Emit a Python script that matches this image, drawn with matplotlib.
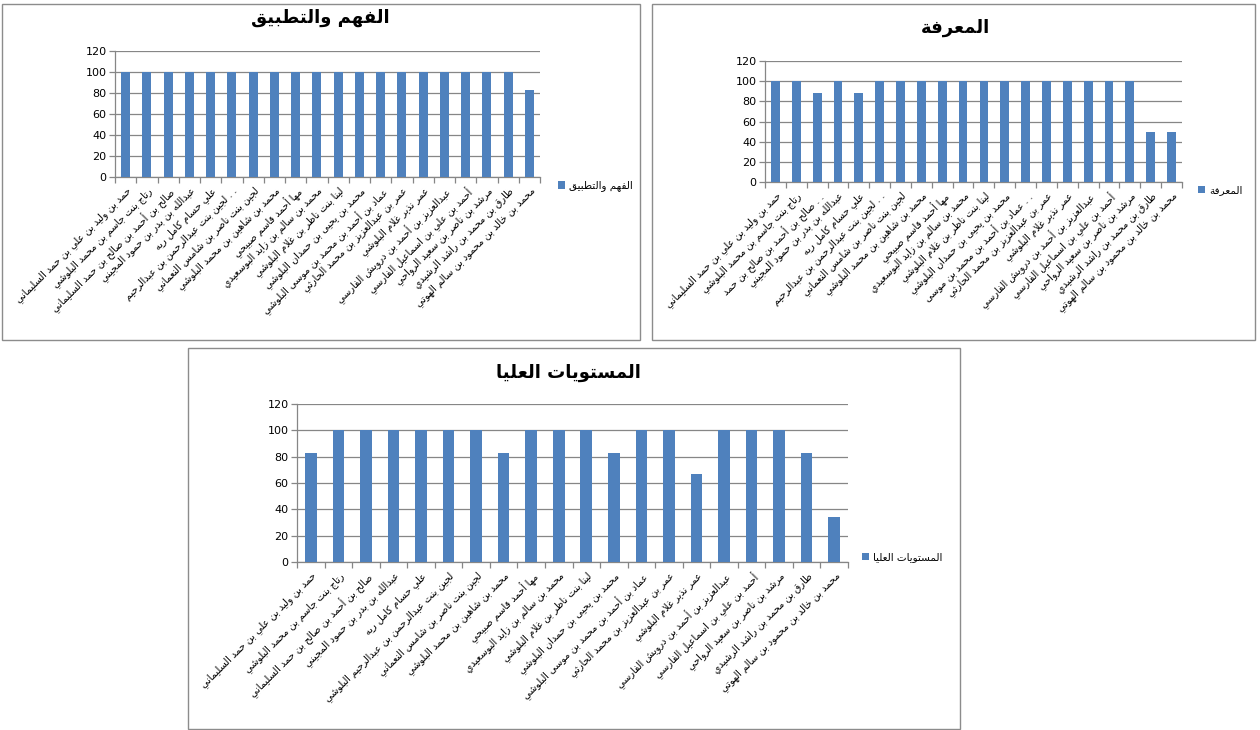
import matplotlib
matplotlib.use('Agg')
import matplotlib.pyplot as plt
from matplotlib.patches import Rectangle
from matplotlib.ticker import FixedLocator, NullFormatter

plt.rcParams['font.family'] = ['DejaVu Sans']

names = [
    'حمد بن وليد بن علي بن حمد السليماني',
    'رتاج بنت جاسم بن محمد البلوشي',
    'صالح بن أحمد بن صالح بن حمد السليماني',
    'عبدالله بن بدر بن حمود المجيني',
    'علي حسام كامل ريه',
    'لجين بنت عبدالرحمن بن عبدالرحيم البلوشي',
    'لجين بنت ناصر بن شامس النعماني',
    'محمد بن شاهين بن محمد البلوشي',
    'مها أحمد قاسم صبيحي',
    'محمد بن سالم بن زايد البوسعيدي',
    'لينا بنت ناظر بن غلام البلوشي',
    'محمد بن يحيى بن حمدان البلوشي',
    'عماد بن أحمد بن محمد بن موسى البلوشي',
    'عمر بن عبدالعزيز بن محمد الحارثي',
    'عمر نذير غلام البلوشي',
    'عبدالعزيز بن أحمد بن درويش الفارسي',
    'أحمد بن علي بن اسماعيل الفارسي',
    'مرشد بن ناصر بن سعيد الرواحي',
    'طارق بن محمد بن راشد الرشيدي',
    'محمد بن خالد بن محمود بن سالم الهوتي',
]

fahm = [100, 100, 100, 100, 100, 100, 100, 100, 100, 100,
        100, 100, 100, 100, 100, 100, 100, 100, 100, 83]
maarifa = [100, 100, 88, 100, 88, 100, 100, 100, 100, 100,
           100, 100, 100, 100, 100, 100, 100, 100, 50, 50]
olya = [83, 100, 100, 100, 100, 100, 100, 83, 100, 100,
        100, 83, 100, 100, 67, 100, 100, 100, 83, 34]

# labels Excel cut short in each chart: index -> words kept
cut_fahm = {5: 5}
cut_maarifa = {2: 7, 5: 5, 12: 7}
cut_olya = {}

# --- minimal arabic shaping (matplotlib does no joining / rtl) ---
DUAL = {'ئ': 0xFE89, 'ب': 0xFE8F, 'ت': 0xFE95, 'ث': 0xFE99, 'ج': 0xFE9D,
        'ح': 0xFEA1, 'خ': 0xFEA5, 'س': 0xFEB1, 'ش': 0xFEB5, 'ص': 0xFEB9,
        'ض': 0xFEBD, 'ط': 0xFEC1, 'ظ': 0xFEC5, 'ع': 0xFEC9, 'غ': 0xFECD,
        'ف': 0xFED1, 'ق': 0xFED5, 'ك': 0xFED9, 'ل': 0xFEDD, 'م': 0xFEE1,
        'ن': 0xFEE5, 'ه': 0xFEE9, 'ي': 0xFEF1}
RIGHT = {'آ': 0xFE81, 'أ': 0xFE83, 'ؤ': 0xFE85, 'إ': 0xFE87, 'ا': 0xFE8D,
         'ة': 0xFE93, 'د': 0xFEA9, 'ذ': 0xFEAB, 'ر': 0xFEAD, 'ز': 0xFEAF,
         'و': 0xFEED, 'ى': 0xFEEF}
LAMALEF = {'آ': 0xFEF5, 'أ': 0xFEF7, 'إ': 0xFEF9, 'ا': 0xFEFB}


def shape(text):
    out = []
    i = 0
    n = len(text)
    while i < n:
        c = text[i]
        prev = i > 0 and text[i - 1] in DUAL
        if c == 'ل' and i + 1 < n and text[i + 1] in LAMALEF:
            out.append(chr(LAMALEF[text[i + 1]] + (1 if prev else 0)))
            i += 2
            continue
        if c in DUAL:
            nxt = i + 1 < n and (text[i + 1] in DUAL or text[i + 1] in RIGHT)
            k = 3 if (prev and nxt) else 1 if prev else 2 if nxt else 0
            out.append(chr(DUAL[c] + k))
        elif c in RIGHT:
            out.append(chr(RIGHT[c] + (1 if prev else 0)))
        elif c == 'ء':
            out.append('\uFE80')
        else:
            out.append(c)
        i += 1
    return ''.join(reversed(out))


def label(name, cut, i):
    if i in cut:
        return shape(' '.join(name.split()[:cut[i]])) + ' . .'
    return shape(name)


W, H = 1260, 730
fig = plt.figure(figsize=(12.6, 7.3), dpi=100, facecolor='w')

# chart frames
for x0, y0, x1, y1 in [(2, 4, 640, 340), (652, 4, 1255, 340), (188, 348, 960, 729)]:
    fig.add_artist(Rectangle((x0 / W, 1 - y1 / H), (x1 - x0) / W, (y1 - y0) / H,
                             transform=fig.transFigure, fill=False,
                             edgecolor='#8c8c8c', linewidth=1.0))

panels = [
    ('الفهم والتطبيق', fahm, cut_fahm, (115, 51, 540, 177), (320, 18), (558, 186)),
    ('المعرفة', maarifa, cut_maarifa, (765, 61, 1182, 182), (955, 28), (1198, 190)),
    ('المستويات العليا', olya, cut_olya, (297, 404, 848, 562), (568, 373), (862, 557)),
]

for title, vals, cut, (ax0, ay0, ax1, ay1), (tx, ty), (lx, ly) in panels:
    ax = fig.add_axes([ax0 / W, 1 - ay1 / H, (ax1 - ax0) / W, (ay1 - ay0) / H])
    xs = list(range(len(vals)))
    bars = ax.bar(xs, vals, width=0.42, color='#4F81BD', zorder=3,
                  label=shape(title))
    ax.set_xlim(-0.5, len(vals) - 0.5)
    ax.set_ylim(0, 120)
    ax.set_yticks(range(0, 121, 20))
    ax.yaxis.grid(True, color='#868686', linewidth=0.9, zorder=0)
    ax.set_xticks(xs)
    ax.set_xticklabels([label(nm, cut, i) for i, nm in enumerate(names)],
                       rotation=45, ha='right', va='top',
                       rotation_mode='anchor', fontsize=7)
    ax.tick_params(axis='x', length=0, pad=6)
    ax.xaxis.set_minor_locator(FixedLocator([i - 0.5 for i in range(len(vals) + 1)]))
    ax.xaxis.set_minor_formatter(NullFormatter())
    ax.tick_params(axis='x', which='minor', length=4, color='#868686', width=0.9)
    ax.tick_params(axis='y', length=4, color='#868686', width=0.9, labelsize=8, pad=2)
    for s in ['top', 'right']:
        ax.spines[s].set_visible(False)
    for s in ['left', 'bottom']:
        ax.spines[s].set_color('#868686')
        ax.spines[s].set_linewidth(0.9)
    fig.text(tx / W, 1 - ty / H, shape(title), ha='center', va='center',
             fontsize=13, fontweight='bold')
    fig.legend(handles=[bars], loc='center left',
               bbox_to_anchor=(lx / W, 1 - ly / H), frameon=False,
               fontsize=7.5, handlelength=0.7, handleheight=0.7,
               handletextpad=0.4, borderpad=0, borderaxespad=0)

fig.savefig('out.png', dpi=100, facecolor='w')
